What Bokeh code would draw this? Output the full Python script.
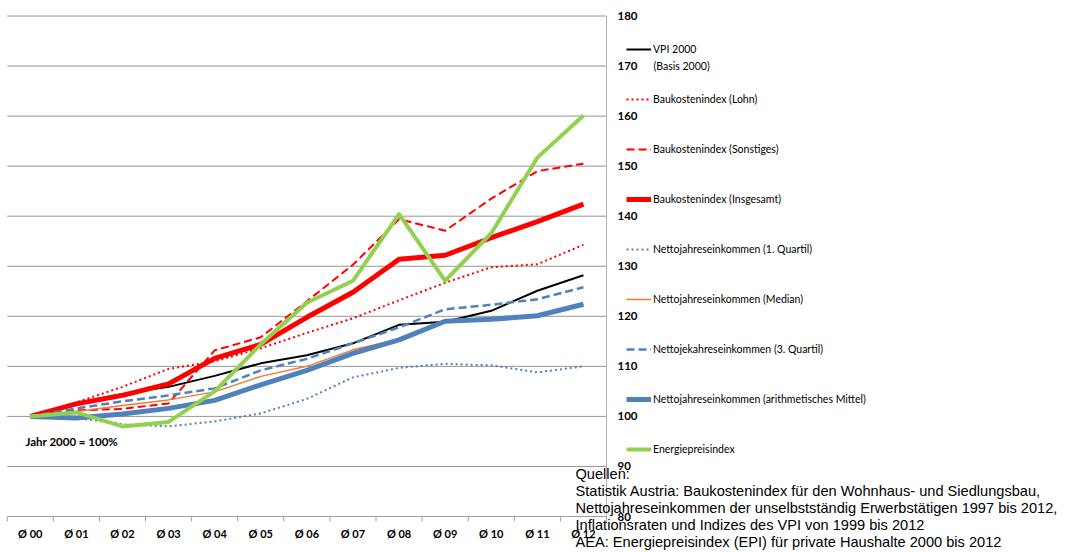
from bokeh.plotting import figure
from bokeh.models import Range1d, Legend, LegendItem, Label
from bokeh.core.properties import value
from bokeh.embed import file_html
from bokeh.resources import INLINE

years = ["Ø 00", "Ø 01", "Ø 02", "Ø 03", "Ø 04", "Ø 05", "Ø 06",
         "Ø 07", "Ø 08", "Ø 09", "Ø 10", "Ø 11", "Ø 12"]
y_ticks = [80, 90, 100, 110, 120, 130, 140, 150, 160, 170, 180]

vpi = [100, 102.7, 104.5, 105.9, 108.1, 110.6, 112.2, 114.6, 118.3, 118.9, 121.1, 125.1, 128.2]
bki_lohn = [100, 102.8, 105.9, 109.5, 111.0, 113.6, 116.7, 119.6, 123.2, 126.7, 129.8, 130.4, 134.3]
bki_sonst = [100, 101.2, 101.5, 102.6, 113.2, 115.8, 123.0, 130.3, 139.4, 137.1, 143.5, 149.0, 150.5]
bki_ges = [100, 102.5, 104.2, 106.5, 111.6, 114.4, 119.8, 124.8, 131.4, 132.2, 135.7, 138.9, 142.4]
q1 = [100, 99.7, 98.4, 98.0, 99.0, 100.6, 103.5, 107.8, 109.7, 110.5, 110.2, 108.8, 110.0]
median = [100, 101.0, 102.2, 103.3, 104.9, 108.0, 110.0, 113.3, 115.4, 119.0, 119.4, 120.1, 122.3]
q3 = [100, 101.6, 103.0, 104.2, 105.6, 109.2, 111.5, 114.6, 117.8, 121.4, 122.3, 123.4, 125.8]
mittel = [100, 99.7, 100.5, 101.6, 103.2, 106.3, 109.2, 112.6, 115.3, 119.0, 119.4, 120.1, 122.4]
energie = [100, 100.8, 98.0, 98.9, 105.0, 114.4, 122.7, 127.1, 140.4, 127.1, 136.6, 151.7, 160.1]

labels = ["VPI 2000", "Baukostenindex (Lohn)", "Baukostenindex (Sonstiges)",
          "Baukostenindex (Insgesamt)", "Nettojahreseinkommen (1. Quartil)",
          "Nettojahreseinkommen (Median)", "Nettojekahreseinkommen (3. Quartil)",
          "Nettojahreseinkommen (arithmetisches Mittel)", "Energiepreisindex"]

sources = ["Quellen:",
           "Statistik Austria: Baukostenindex für den Wohnhaus- und Siedlungsbau,",
           "Nettojahreseinkommen der unselbstständig Erwerbstätigen 1997 bis 2012,",
           "Inflationsraten und Indizes des VPI von 1999 bis 2012",
           "AEA: Energiepreisindex (EPI) für private Haushalte 2000 bis 2012"]

W, H = 1072, 552
# pixel geometry of the plot area (layout only)
X0, XU = 6.7, 46.1      # left edge of category area, px per category
Y0, YU = 516.0, 5.005   # pixel row of value 80, px per index point


def dx(px):
    return (px - X0) / XU - 0.5


def dy(py):
    return 80 + (Y0 - py) / YU


x = list(range(len(years)))
x_lo, x_hi = -0.5, len(years) - 0.5

p = figure(width=W, height=H, output_backend="svg", toolbar_location=None,
           x_range=Range1d(dx(0), dx(W)), y_range=Range1d(dy(H), dy(0)),
           x_axis_location=None, y_axis_location=None,
           min_border=0, min_border_left=0, min_border_right=0,
           min_border_top=0, min_border_bottom=0)
p.outline_line_color = None
p.background_fill_color = "white"
p.border_fill_color = "white"
p.grid.visible = False

# horizontal gridlines (plot area only)
grid_vals = [t for t in y_ticks if t > y_ticks[0]]
p.segment(x0=x_lo, x1=x_hi, y0=grid_vals, y1=grid_vals,
          line_color="#969696", line_width=1)

# bottom (category) axis line + boundary ticks
p.segment(x0=x_lo, x1=x_hi, y0=y_ticks[0], y1=y_ticks[0],
          line_color="#a0a0a0", line_width=1)
bounds = [i - 0.5 for i in range(len(years) + 1)]
p.segment(x0=bounds, x1=bounds, y0=y_ticks[0], y1=dy(Y0 + 5),
          line_color="#a0a0a0", line_width=1)
p.text(x=x, y=dy(532.5), text=years, text_align="center",
       text_baseline="middle", text_font=value("Lato"),
       text_font_style="bold", text_font_size="11px", text_color="#000000")

# right value axis line + labels
p.segment(x0=x_hi, x1=x_hi, y0=y_ticks[0], y1=y_ticks[-1],
          line_color="#b4b4b4", line_width=1)
p.text(x=dx(617), y=y_ticks, text=[str(t) for t in y_ticks], text_align="left",
       text_baseline="middle", text_font=value("Lato"),
       text_font_style="bold", text_font_size="11.5px", text_color="#000000")

styles = [
    (vpi, "#000000", 2, "solid"),
    (bki_lohn, "#ff0000", 2, "2 3"),
    (bki_sonst, "#ff0000", 2, "8 4"),
    (bki_ges, "#ff0000", 5, "solid"),
    (q1, "#4f81bd", 2, "2 3"),
    (median, "#ed7d31", 1.5, "solid"),
    (q3, "#4f81bd", 2.5, "8 4"),
    (mittel, "#4f81bd", 5, "solid"),
    (energie, "#92d050", 4, "solid"),
]

items = []
for (vals, col, w, dash), lab in zip(styles, labels):
    r = p.line(x, vals, line_color=col, line_width=w, line_dash=dash,
               line_join="round")
    items.append(LegendItem(label=lab, renderers=[r]))

legend = Legend(items=items, location=(626, 93), orientation="vertical",
                glyph_width=25, glyph_height=20, label_height=20,
                label_width=10, spacing=30, padding=0, margin=0,
                label_standoff=2, border_line_color=None,
                background_fill_alpha=0,
                label_text_font="Lato", label_text_font_size="10.5px",
                label_text_color="#000000")
p.add_layout(legend)

p.add_layout(Label(x=dx(653), y=dy(65), text="(Basis 2000)", text_font="Lato",
                   text_font_size="10.5px", text_baseline="middle",
                   text_color="#000000"))

p.add_layout(Label(x=dx(25), y=dy(441), text="Jahr 2000 = 100%", text_font="Lato",
                   text_font_style="bold", text_font_size="11.5px",
                   text_baseline="middle", text_color="#000000"))

for i, s in enumerate(sources):
    p.add_layout(Label(x=dx(575), y=dy(473 + i * 17.0), text=s,
                       text_font="Liberation Sans", text_font_size="14.6px",
                       text_baseline="middle", text_color="#000000"))

open("out.html", "w").write(file_html(p, INLINE))
